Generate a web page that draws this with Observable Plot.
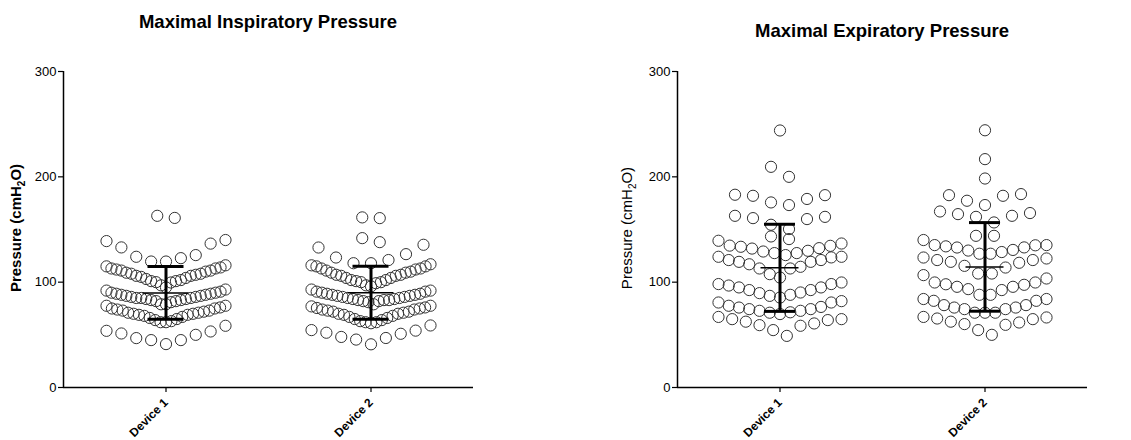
<!DOCTYPE html>
<html>
<head>
<meta charset="utf-8">
<script src="https://cdn.jsdelivr.net/npm/d3@7"></script>
<script src="https://cdn.jsdelivr.net/npm/@observablehq/plot@0.6"></script>
<style>
  body { margin: 0; background: #fff; font-family: "Liberation Sans", Arial, sans-serif; }
  #wrap { position: relative; width: 1131px; height: 440px; overflow: hidden; background: #fff; }
  .title { position: absolute; z-index: 2; font-weight: bold; font-size: 18.5px; white-space: nowrap; transform: translate(-50%, -50%); color: #000; }
  .ylab { position: absolute; z-index: 2; font-size: 15px; white-space: nowrap; transform: translate(-50%, -50%) rotate(-90deg); color: #000; }
  .ylab sub { font-size: 10px; }
  .panel { position: absolute; top: 40px; z-index: 1; }
  .panel svg g[aria-label="x-axis tick label"] text { font-weight: bold; font-size: 12px; }
  .panel svg g[aria-label="y-axis tick label"] text { font-size: 13px; }
</style>
</head>
<body>
<div id="wrap">
  <div class="panel" id="left" style="left:0px;"></div>
  <div class="panel" id="right" style="left:565px;"></div>
  <div class="title" style="left:268px; top:22px;">Maximal Inspiratory Pressure</div>
  <div class="title" style="left:882px; top:31px;">Maximal Expiratory Pressure</div>
  <div class="ylab" style="left:17px; top:228px; font-weight:bold;">Pressure (cmH<sub>2</sub>O)</div>
  <div class="ylab" style="left:628px; top:228px;">Pressure (cmH<sub>2</sub>O)</div>
</div>
<script>
// ---- data (cmH2O) ----
const devices = ["Device 1", "Device 2"];
const yTicks = [0, 100, 200, 300];

const mipDevice1 = [163, 161, 140, 136.6, 133, 139, 125.7, 119.6, 122.8, 119.6, 124.1,
  116, 115, 113, 111, 110, 108, 107, 106, 104, 102, 101, 99.7, 100, 101, 103, 105, 106, 108, 109, 111, 112, 113, 114, 95, 97,
  92, 90, 89, 88, 87, 86, 85, 85, 84, 83, 82, 81, 82, 83, 84, 85, 86, 87, 88, 89, 90, 91, 93, 79, 79,
  77.6, 76, 75, 74, 73, 71, 70, 69, 67, 65, 63, 62, 62, 64, 66, 68, 69, 70, 71, 72, 73, 75, 77.6,
  58.6, 53.2, 50, 45, 41.2, 45, 46.9, 51.3, 53.8];

const mipDevice2 = [160.8, 161.5, 141.8, 138, 135.5, 126.6, 123.4, 132.9, 121, 118, 118,
  116, 115, 113, 112, 110, 109, 107, 106, 104, 102, 101, 100, 99, 100, 102, 104, 106, 107, 109, 111, 113, 115, 117, 97, 96,
  92, 91, 89, 88, 87, 86, 85, 84, 83, 83, 82, 81, 82, 83, 84, 85, 86, 87, 88, 89, 90, 91, 93, 79,
  76, 75.5, 74, 73, 72, 70, 69, 67, 65, 63, 62, 61, 62, 64, 66, 68, 70, 71, 72, 74, 75, 77, 77.6,
  58.9, 54.5, 52, 47, 41, 45.5, 48, 51, 54];

const mepDevice1 = [244, 209.5, 200, 182.6, 179, 173.2, 175.7, 182, 183, 163, 160.8, 154.5, 159.9, 162, 150.4, 140.9, 143.4,
  136.7, 133.6, 132.3, 129.1, 127.6, 125.7, 127.6, 129.8, 131.9, 134.5, 134.7, 139.3,
  124.1, 121, 119.3, 114.6, 113, 113, 119.3, 121, 123.5, 124.1, 107.6, 104.4, 117,
  98.2, 95, 92.5, 89.6, 87, 85.4, 88, 90.2, 92.5, 95, 96.8, 98.2, 99.7,
  80.7, 77.6, 74.4, 72.8, 71, 69.7, 71.4, 72.8, 74.4, 75.9, 76.5, 80.7, 82,
  64.9, 64, 60.8, 58.6, 49, 54.5, 59.2, 62.5, 64.9, 67];

const mepDevice2 = [244.2, 216.8, 198.4, 183.6, 182, 173.2, 177.3, 182.6, 165.6, 163, 156.7, 162, 164.6, 167.1, 144, 144,
  135.2, 135.2, 132.9, 130.6, 128.6, 127, 127, 130, 133, 134, 135, 140,
  123.4, 121, 119.3, 115.5, 113.9, 118.4, 121, 122.5, 108.2, 108.2,
  106.7, 99.7, 98, 95.6, 93.4, 88, 88, 92.5, 95.6, 97.5, 99.7, 103.5,
  84, 82.3, 78.2, 75.9, 74.4, 71, 71, 71, 74.4, 75.9, 78.2, 82.3, 84,
  66.5, 64.9, 61.7, 59.5, 50, 54.5, 60.2, 62.5, 65.5, 67];

// ---- scatter-row layout (Prism-like: rows of similar values, lowest in the middle) ----
function swarm(values, group, breaks, rowWidth, maxStep, pxPerUnit) {
  const bins = d3.bin().domain([0, 300]).thresholds(breaks)(values);
  const out = [];
  for (const b of bins) {
    const s = Array.from(b).sort((a, c) => a - c);
    const n = s.length;
    if (!n) continue;
    const left = [], right = [];
    s.forEach((v, i) => (i % 2 === 0 ? right : left).push(v));
    const row = left.reverse().concat(right);
    const step = n > 1 ? Math.min(maxStep, rowWidth / (n - 1)) : 0;
    row.forEach((v, j) => out.push({g: group, v, x: group + (j - (n - 1) / 2) * step / pxPerUnit}));
  }
  return out;
}

function panel(el, cfg) {
  const pxPerUnit = (cfg.width - cfg.ml - cfg.mr) / 2;
  const pts = [
    ...swarm(cfg.d1, 1, cfg.b1, cfg.rowWidth, cfg.maxStep, pxPerUnit),
    ...swarm(cfg.d2, 2, cfg.b2, cfg.rowWidth, cfg.maxStep, pxPerUnit)
  ];
  const stats = [[1, cfg.d1], [2, cfg.d2]].map(([g, vals]) => ({g, mean: d3.mean(vals), sd: d3.deviation(vals)}));
  const chart = Plot.plot({
    width: cfg.width,
    height: 400,
    marginLeft: cfg.ml,
    marginRight: cfg.mr,
    marginTop: 31,
    marginBottom: 53,
    style: {fontFamily: '"Liberation Sans", Arial, sans-serif', fontSize: "12px", color: "#000", background: "#fff"},
    x: {domain: [0.5, 2.5]},
    y: {domain: [0, 300]},
    marks: [
      Plot.dot(pts, {x: "x", y: "v", r: 5.6, stroke: "#333", strokeWidth: 1, fill: "none"}),
      Plot.ruleX(stats, {x: "g", y1: d => d.mean - d.sd, y2: d => d.mean + d.sd, stroke: "#000", strokeWidth: 3}),
      Plot.ruleY(stats, {y: d => d.mean + d.sd, x1: d => d.g - cfg.cap / pxPerUnit, x2: d => d.g + cfg.cap / pxPerUnit, stroke: "#000", strokeWidth: 3}),
      Plot.ruleY(stats, {y: d => d.mean - d.sd, x1: d => d.g - cfg.cap / pxPerUnit, x2: d => d.g + cfg.cap / pxPerUnit, stroke: "#000", strokeWidth: 3}),
      Plot.ruleY(stats, {y: "mean", x1: d => d.g - cfg.meanHalf / pxPerUnit, x2: d => d.g + cfg.meanHalf / pxPerUnit, stroke: "#000", strokeWidth: 1.5}),
      Plot.ruleX([0.5], {y1: 0, y2: 300, stroke: "#000", strokeWidth: 1.5}),
      Plot.ruleY([0], {x1: 0.5, x2: 2.5, stroke: "#000", strokeWidth: 1.5}),
      Plot.axisY({ticks: yTicks, tickSize: 5, tickPadding: 2, fontSize: 13, label: null, strokeWidth: 1.2}),
      Plot.axisX({ticks: [1, 2], tickFormat: d => devices[d - 1], tickRotate: -45, tickSize: 5, tickPadding: 8,
        fontSize: 12, fontWeight: "bold", label: null, strokeWidth: 1.2})
    ]
  });
  el.appendChild(chart);
}

panel(document.getElementById("left"), {
  width: 560, ml: 63, mr: 87, d1: mipDevice1, d2: mipDevice2,
  b1: [60, 78.5, 94, 118, 150], b2: [60, 78.5, 94, 117.5, 137, 150],
  rowWidth: 119, maxStep: 17.5, cap: 18, meanHalf: 23
});
panel(document.getElementById("right"), {
  width: 566, ml: 112, mr: 44, d1: mepDevice1, d2: mepDevice2,
  b1: [68, 84.5, 101, 124.5, 140, 150, 170, 190, 230], b2: [68, 86, 107.5, 125, 141, 150, 170, 190, 205, 230],
  rowWidth: 123, maxStep: 18, cap: 15.5, meanHalf: 19
});
</script>
</body>
</html>
